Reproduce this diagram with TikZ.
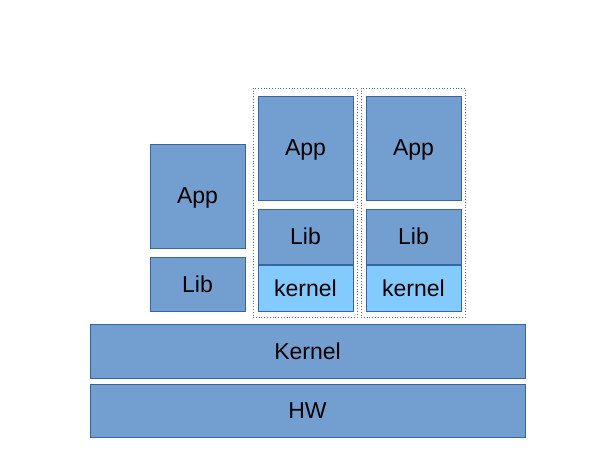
\documentclass[tikz,border=0pt]{standalone}
\usepackage{fontspec}
\setmainfont{Liberation Sans}
\definecolor{boxfill}{HTML}{729FCF}
\definecolor{boxline}{HTML}{3465A4}
\definecolor{kfill}{HTML}{83CAFF}

\begin{document}
\begin{tikzpicture}[x=1pt, y=-1pt,
    blk/.style={draw=boxline, fill=boxfill, line width=0.8pt, inner sep=0pt,
        text depth=0pt, minimum width=95pt, font=\fontsize{23}{27}\selectfont},
    kblk/.style={blk, fill=kfill},
    wide/.style={blk, minimum width=435pt},
    vm/.style={draw=boxline!70!gray, dotted, line width=0.8pt, inner sep=0pt,
        minimum width=104pt, minimum height=229pt}]
    \useasboundingbox (0,0) rectangle (615,473);

    % containers
    \node[vm] (vmA) at (305,202.5) {};
    \node[vm] (vmB) at (413,202.5) {};

    % plain process
    \node[blk, minimum height=104pt] (app1) at (197.5,196) {App};
    \node[blk, minimum height=54pt] (lib1) at (197.5,284) {Lib};

    % first guest
    \node[blk, minimum height=104pt] (app2) at (305.5,148) {App};
    \node[blk, minimum height=55pt] (lib2) at (305.5,236.5) {Lib};
    \node[kblk, minimum height=46pt] (ker2) at (305.5,288) {kernel};

    % second guest
    \node[blk, minimum height=104pt] (app3) at (413.5,148) {App};
    \node[blk, minimum height=55pt] (lib3) at (413.5,236.5) {Lib};
    \node[kblk, minimum height=46pt] (ker3) at (413.5,288) {kernel};

    % host
    \node[wide, minimum height=54pt] (kernel) at (307.5,351) {Kernel};
    \node[wide, minimum height=53pt] (hw) at (307.5,410.5) {HW};
\end{tikzpicture}
\end{document}
